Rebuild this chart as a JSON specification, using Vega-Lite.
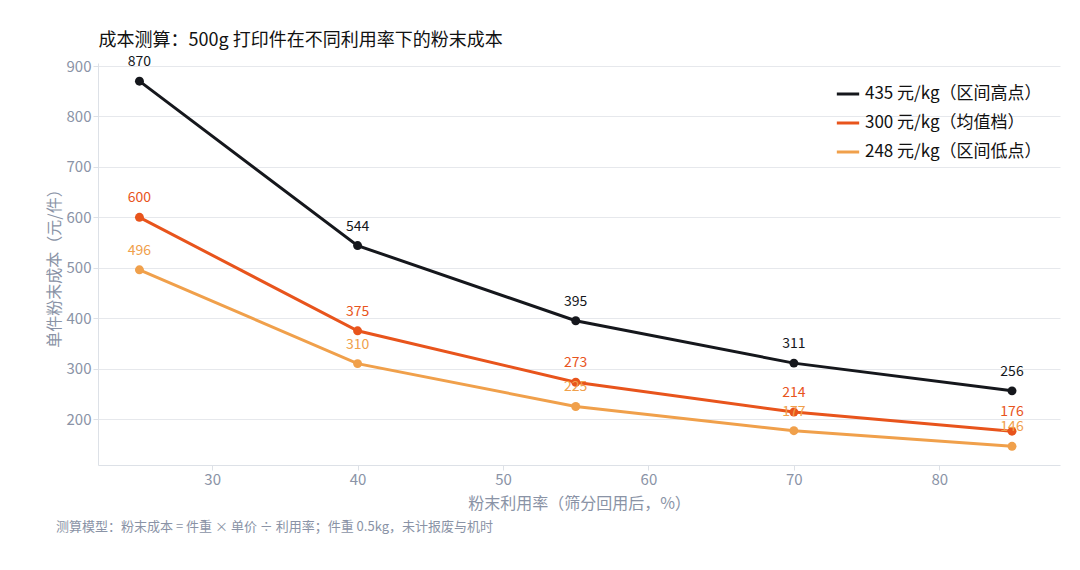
{
  "$schema": "https://vega.github.io/schema/vega-lite/v6.json",
  "width": 1080,
  "height": 570,
  "autosize": {"type": "fit", "contains": "padding"},
  "padding": {"left": 46, "top": 31, "right": 20, "bottom": 36},
  "config": {
    "font": "Noto Sans CJK SC",
    "view": {"stroke": null},
    "axis": {"labelColor": "#8a93a6", "titleColor": "#8a93a6", "labelFontSize": 15, "titleFontSize": 16, "titleFontWeight": "normal", "domainColor": "#dde1e7", "tickColor": "#dde1e7", "gridColor": "#e6e8ec"}
  },
  "title": {"text": "测算模型：粉末成本 = 件重 × 单价 ÷ 利用率；件重 0.5kg，未计报废与机时", "orient": "bottom", "anchor": "start", "fontSize": 13, "fontWeight": "normal", "color": "#8a93a6", "offset": 10, "dx": 10},
  "data": {"values": [
    {"rate": 25, "cost": 870, "s": "435 元/kg（区间高点）"},
    {"rate": 40, "cost": 544, "s": "435 元/kg（区间高点）"},
    {"rate": 55, "cost": 395, "s": "435 元/kg（区间高点）"},
    {"rate": 70, "cost": 311, "s": "435 元/kg（区间高点）"},
    {"rate": 85, "cost": 256, "s": "435 元/kg（区间高点）"},
    {"rate": 25, "cost": 600, "s": "300 元/kg（均值档）"},
    {"rate": 40, "cost": 375, "s": "300 元/kg（均值档）"},
    {"rate": 55, "cost": 273, "s": "300 元/kg（均值档）"},
    {"rate": 70, "cost": 214, "s": "300 元/kg（均值档）"},
    {"rate": 85, "cost": 176, "s": "300 元/kg（均值档）"},
    {"rate": 25, "cost": 496, "s": "248 元/kg（区间低点）"},
    {"rate": 40, "cost": 310, "s": "248 元/kg（区间低点）"},
    {"rate": 55, "cost": 225, "s": "248 元/kg（区间低点）"},
    {"rate": 70, "cost": 177, "s": "248 元/kg（区间低点）"},
    {"rate": 85, "cost": 146, "s": "248 元/kg（区间低点）"}
  ]},
  "resolve": {"axis": {"x": "independent"}},
  "encoding": {
    "y": {"field": "cost", "type": "quantitative", "scale": {"domain": [109, 906], "nice": false}, "axis": {"title": "单件粉末成本（元/件）", "values": [200, 300, 400, 500, 600, 700, 800, 900], "tickSize": 5, "grid": true}},
    "color": {"field": "s", "type": "nominal", "sort": null,
      "scale": {"domain": ["435 元/kg（区间高点）", "300 元/kg（均值档）", "248 元/kg（区间低点）"], "range": ["#15171c", "#e8541c", "#f0a04b"]},
      "legend": {"title": null, "orient": "top-right", "labelFontSize": 17, "labelLimit": 400, "labelColor": "#111", "symbolType": "stroke", "symbolStrokeWidth": 3, "symbolSize": 500, "rowPadding": 8, "offset": 18}}
  },
  "layer": [
    {
      "mark": {"type": "line", "strokeWidth": 3, "point": {"size": 80, "filled": true}},
      "encoding": {
        "x": {"field": "rate", "type": "quantitative", "scale": {"domain": [22.15, 88.3], "nice": false}, "axis": {"title": "粉末利用率（筛分回用后，%）", "values": [30, 40, 50, 60, 70, 80], "grid": false, "tickSize": 5, "titlePadding": 8}}
      }
    },
    {
      "mark": {"type": "text", "dy": -19, "fontSize": 14},
      "encoding": {
        "x": {"field": "rate", "type": "quantitative", "axis": {"orient": "top", "title": "成本测算：500g 打印件在不同利用率下的粉末成本", "titleAnchor": "start", "titleColor": "#111", "titleFontSize": 18, "titlePadding": 14, "labels": false, "ticks": false, "domain": false, "grid": false}},
        "text": {"field": "cost", "type": "quantitative"}
      }
    }
  ]
}
